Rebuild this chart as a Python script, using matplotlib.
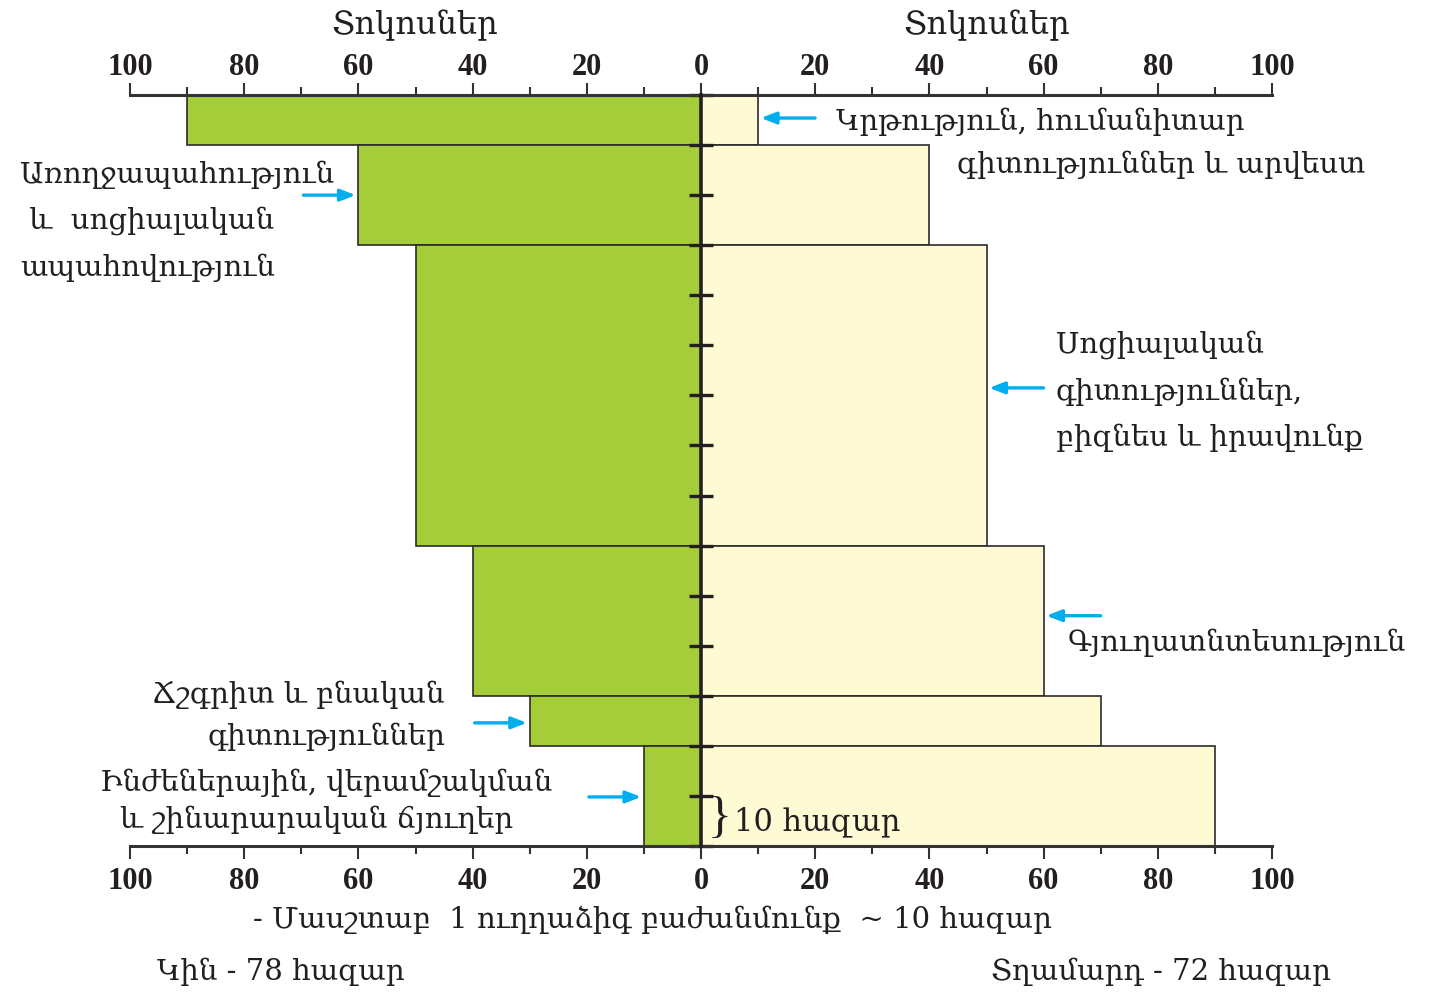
import matplotlib
matplotlib.use('Agg')
import matplotlib.pyplot as plt
import numpy as np
from matplotlib.ticker import MultipleLocator, FixedLocator, FuncFormatter

# ---------------- data ----------------
categories = [
    "Կրթություն, հումանիտար\nգիտություններ և արվեստ",
    "Առողջապահություն\n և  սոցիալական\nապահովություն",
    "Սոցիալական\nգիտություններ,\nբիզնես և իրավունք",
    "Գյուղատնտեսություն",
    "Ճշգրիտ և բնական\nգիտություններ",
    "Ինժեներային, վերամշակման\nև շինարարական ճյուղեր",
]
women_pct = [90, 60, 50, 40, 30, 10]
men_pct = [10, 40, 50, 60, 70, 90]
group_size = [10, 20, 60, 30, 10, 20]   # thousand people (1 division = 10 thousand)
pct_ticks = [-100, -80, -60, -40, -20, 0, 20, 40, 60, 80, 100]

axis_title = "Տոկոսներ"
scale_note = "- Մասշտաբ  1 ուղղաձիգ բաժանմունք  ~ 10 հազար"
women_total = "Կին - 78 հազար"
men_total = "Տղամարդ - 72 հազար"
unit_label = "10 հազար"

# ---------------- style ----------------
W, H = 1433, 994
GREEN = '#a5cd39'
YELLOW = '#fefad4'
EDGE = '#2b2b2b'
DARK = '#231f20'
BLUE = '#00aeef'
ARM = ['DejaVu Serif', 'DejaVu Sans']
NUM = 'Liberation Serif'
FS = 21

def px(x, y):
    return (x / W, 1 - y / H)

fig = plt.figure(figsize=(W / 100, H / 100), dpi=100)
ax = fig.add_axes([130 / W, 1 - 846 / H, (1272 - 130) / W, (846 - 95) / H])

sizes = np.array(group_size, dtype=float)
centers = np.cumsum(sizes) - sizes / 2
women = -np.array(women_pct, dtype=float)
men = np.array(men_pct, dtype=float)

ax.barh(centers, women, height=sizes, color=GREEN, edgecolor=EDGE, linewidth=1.2, zorder=1)
ax.barh(centers, men, height=sizes, color=YELLOW, edgecolor=EDGE, linewidth=1.2, zorder=1)

ax.set_xlim(-100, 100)
ax.set_ylim(sizes.sum(), 0)

# spines
for s in ['top', 'bottom']:
    ax.spines[s].set_linewidth(2.2)
    ax.spines[s].set_color('#333333')
ax.spines['right'].set_visible(False)
ax.spines['left'].set_position(('data', 0))
ax.spines['left'].set_linewidth(2.6)
ax.spines['left'].set_color(DARK)
ax.spines['left'].set_zorder(3)

fmt = FuncFormatter(lambda v, p: f"{abs(v):.0f}")
minor_ticks = [v + 10 for v in pct_ticks[:-1]]

# bottom axis
ax.xaxis.set_major_locator(FixedLocator(pct_ticks))
ax.xaxis.set_minor_locator(FixedLocator(minor_ticks))
ax.xaxis.set_major_formatter(fmt)
ax.tick_params(axis='x', which='major', direction='out', length=9, width=1.5,
               color='#333333', pad=6, top=False, labeltop=False)
ax.tick_params(axis='x', which='minor', direction='out', length=6, width=1.5,
               color='#333333', top=False)
for lab in ax.get_xticklabels():
    lab.set_fontfamily(NUM)
    lab.set_fontweight('bold')
    lab.set_fontsize(22)
    lab.set_color(DARK)

# top axis
sec = ax.secondary_xaxis('top')
sec.xaxis.set_major_locator(FixedLocator(pct_ticks))
sec.xaxis.set_minor_locator(FixedLocator(minor_ticks))
sec.xaxis.set_major_formatter(fmt)
sec.spines['top'].set_visible(False)
sec.tick_params(axis='x', which='major', direction='out', length=9, width=1.5,
                color='#333333', pad=0)
sec.tick_params(axis='x', which='minor', direction='out', length=6, width=1.5,
                color='#333333')
for lab in sec.get_xticklabels():
    lab.set_fontfamily(NUM)
    lab.set_fontweight('bold')
    lab.set_fontsize(22)
    lab.set_color(DARK)

# central axis ticks (every 10 thousand)
ax.yaxis.set_major_locator(MultipleLocator(10))
ax.tick_params(axis='y', direction='inout', length=17, width=2.4, color=DARK,
               labelleft=False)

# top titles
fig.text(*px(415, 25), axis_title, ha='center', va='center', fontsize=23,
         family=ARM, color=DARK)
fig.text(*px(987, 25), axis_title, ha='center', va='center', fontsize=23,
         family=ARM, color=DARK)

# annotations: side, arrow tail offset (pixels), line positions, alignment, arrow shift
layout = [
    dict(side='men', dx=57, dy=-0.4, lines=[(836, 122), (957, 165)], ha='left'),
    dict(side='women', dx=-55, dy=0.0, lines=[(20, 175), (20, 221), (20, 268)], ha='left'),
    dict(side='men', dx=57, dy=-1.5, lines=[(1056, 345), (1056, 392), (1056, 438)], ha='left'),
    dict(side='men', dx=57, dy=-1.0, lines=[(1068, 643)], ha='left'),
    dict(side='women', dx=-55, dy=0.4, lines=[(445, 695), (445, 737)], ha='right'),
    dict(side='women', dx=-55, dy=0.2, lines=[(100, 783), (120, 820)], ha='left'),
]

for i, (cat, lay) in enumerate(zip(categories, layout)):
    xtip = men[i] if lay['side'] == 'men' else women[i]
    ytip = centers[i] + lay['dy']
    ax.annotate('', xy=(xtip, ytip), xycoords='data',
                xytext=(lay['dx'], 0), textcoords='offset pixels',
                arrowprops=dict(arrowstyle='-|>,head_length=0.9,head_width=0.35',
                                color=BLUE, lw=2.4, shrinkA=0, shrinkB=2),
                annotation_clip=False)
    for line, (lx, ly) in zip(cat.split('\n'), lay['lines']):
        fig.text(*px(lx, ly), line, ha=lay['ha'], va='center', fontsize=FS,
                 family=ARM, color=DARK)

# scale brace
fig.text(*px(719, 819), '}', ha='center', va='center', fontsize=36,
         family='Liberation Serif', color=DARK)
fig.text(*px(734, 822), unit_label, ha='left', va='center', fontsize=FS + 1,
         family=ARM, color=DARK)

# bottom notes
fig.text(*px(652, 920), scale_note, ha='center', va='center', fontsize=FS,
         family=ARM, color=DARK)
fig.text(*px(281, 972), women_total, ha='center', va='center', fontsize=FS,
         family=ARM, color=DARK)
fig.text(*px(1161, 972), men_total, ha='center', va='center', fontsize=FS,
         family=ARM, color=DARK)

fig.savefig('out.png', dpi=100)
